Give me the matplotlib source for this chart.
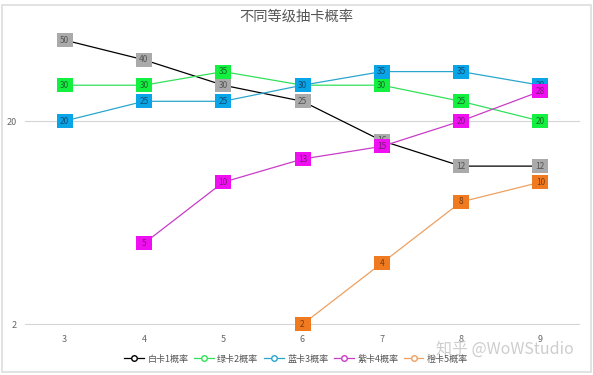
import matplotlib.pyplot as plt
from matplotlib.lines import Line2D
from matplotlib.patches import Rectangle

plt.rcParams['font.family'] = ['Noto Sans CJK SC', 'DejaVu Sans']

title = "不同等级抽卡概率"
x_all = [3, 4, 5, 6, 7, 8, 9]

names = ["白卡1概率", "绿卡2概率", "蓝卡3概率", "紫卡4概率", "橙卡5概率"]
white = [50, 40, 30, 25, 16, 12, 12]
green = [30, 30, 35, 30, 30, 25, 20]
blue = [20, 25, 25, 30, 35, 35, 30]
purple_x = [4, 5, 6, 7, 8, 9]
purple = [5, 10, 13, 15, 20, 28]
orange_x = [6, 7, 8, 9]
orange = [2, 4, 8, 10]

series = [
    (x_all, white, "#000000", "#aaaaaa", "#555555"),
    (x_all, green, "#33e05a", "#14f040", "#146b2a"),
    (x_all, blue, "#2aa6cc", "#0aa5e6", "#0d4d78"),
    (purple_x, purple, "#c83cc8", "#f00ff0", "#7a1a7a"),
    (orange_x, orange, "#eea060", "#f07a20", "#7a3c10"),
]

# slightly wider than tall box marker
box = [(-1, -0.86), (1, -0.86), (1, 0.86), (-1, 0.86), (-1, -0.86)]

fig = plt.figure(figsize=(5.93, 3.75), dpi=100)
ax = fig.add_axes([25 / 593, 1 - 325 / 375, 555 / 593, 301 / 375])

handles = []
for i, (xs, ys, lc, mc, tc) in enumerate(series):
    z = 3 + i
    ax.plot(xs, ys, color=lc, lw=0.9, zorder=z, clip_on=False)
    ax.plot(xs, ys, ls="none", marker=box, ms=12.2, mfc=mc, mec=mc, mew=0,
            zorder=z, clip_on=False)
    for xv, yv in zip(xs, ys):
        ax.text(xv, yv, str(yv), ha="center", va="center", fontsize=6,
                color=tc, zorder=z)
    handles.append(Line2D([], [], color=lc, lw=0.9, marker="o", ms=4,
                          mfc="white", mec=lc))

ax.set_yscale("log")
ax.set_ylim(1.985, 60)
ax.set_xlim(2.5, 9.5)
ax.set_xticks(x_all)
ax.set_xticklabels([str(v) for v in x_all])
ax.set_yticks([2, 20])
ax.set_yticklabels(["2", "20"])
ax.minorticks_off()
ax.tick_params(length=0, labelsize=6.5, labelcolor="#666666")
ax.tick_params(axis="x", pad=7)
ax.tick_params(axis="y", pad=6)
for s in ax.spines.values():
    s.set_visible(False)
ax.grid(axis="y", color="#d4d4d4", lw=0.8)
ax.set_axisbelow(True)

fig.text(0.5, 1 - 17 / 375, title, ha="center", va="center",
         fontsize=10.3, color="#555555")

fig.legend(handles, names, loc="center", bbox_to_anchor=(296 / 593, 1 - 359 / 375),
           ncol=5, frameon=False, fontsize=6.5, handlelength=2.2,
           handletextpad=0.4, columnspacing=0.6, labelcolor="#555555")

# watermark from the source image
fig.text(505 / 593, 1 - 349 / 375, "知乎 @WoWStudio", ha="center", va="center",
         fontsize=11.5, color="#c8c8c8", alpha=0.9, zorder=10)

fig.patches.append(Rectangle((2 / 593, 3 / 375), 589 / 593, 367 / 375,
                             transform=fig.transFigure, fill=False,
                             ec="#dddddd", lw=1.2))

fig.savefig("out.png", dpi=100)
